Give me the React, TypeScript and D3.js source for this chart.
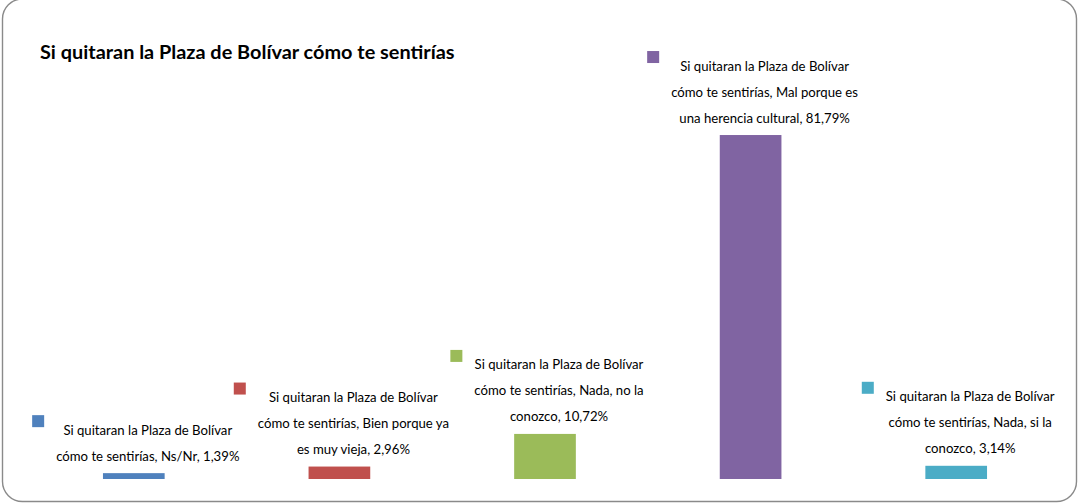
import React, { useEffect, useRef } from "react";
import * as d3 from "d3";

const TITLE = "Si quitaran la Plaza de Bolívar cómo te sentirías";
const SERIES_PREFIX = "Si quitaran la Plaza de Bolívar cómo te sentirías";
const categories = [
  "Ns/Nr",
  "Bien porque ya es muy vieja",
  "Nada, no la conozco",
  "Mal porque es una herencia cultural",
  "Nada, si la conozco",
];
const values = [1.39, 2.96, 10.72, 81.79, 3.14];
const valueLabels = ["1,39%", "2,96%", "10,72%", "81,79%", "3,14%"];
const colors = ["#4F81BD", "#C0504D", "#9BBB59", "#8064A2", "#4BACC6"];

const W = 1078;
const H = 503;
const FONT = "Lato, 'Open Sans', sans-serif";

export default function App() {
  const ref = useRef<SVGSVGElement | null>(null);

  useEffect(() => {
    document.body.style.margin = "0";
    const svg = d3.select(ref.current);
    svg.selectAll("*").remove();

    svg
      .append("rect")
      .attr("x", 2.5)
      .attr("y", -1)
      .attr("width", 1074)
      .attr("height", 502.5)
      .attr("rx", 20)
      .attr("ry", 20)
      .attr("fill", "#fff")
      .attr("stroke", "#8a8a8a")
      .attr("stroke-width", 1.4);

    // Title, sized to match the reference width
    const title = svg
      .append("text")
      .attr("x", 40)
      .attr("y", 58.5)
      .attr("font-family", FONT)
      .attr("font-weight", "bold")
      .attr("font-size", 18)
      .attr("fill", "#000")
      .text(TITLE);
    const tw = (title.node() as SVGTextElement).getComputedTextLength();
    title.attr("font-size", (18 * 415) / tw);

    const x = d3
      .scaleBand<string>()
      .domain(categories)
      .range([31, 1059])
      .paddingInner(0.7)
      .paddingOuter(0.35);
    const y = d3.scaleLinear().domain([0, 90]).range([479, 100.5]);

    svg
      .selectAll("rect.bar")
      .data(categories)
      .enter()
      .append("rect")
      .attr("class", "bar")
      .attr("x", (d) => x(d)!)
      .attr("width", x.bandwidth())
      .attr("y", (_d, i) => y(values[i]))
      .attr("height", (_d, i) => y(0) - y(values[i]))
      .attr("fill", (_d, i) => colors[i]);

    // Measure label font size
    const probe = svg
      .append("text")
      .attr("font-family", FONT)
      .attr("font-size", 13)
      .text("Si quitaran la Plaza de Bolívar");
    const pw = (probe.node() as SVGTextElement).getComputedTextLength();
    const fs = (13 * 169) / pw;
    probe.attr("font-size", fs);
    const measure = (s: string) => {
      probe.text(s);
      return (probe.node() as SVGTextElement).getComputedTextLength();
    };
    const maxLine = 169 * 1.2;

    const lineGap = 26;
    categories.forEach((cat, i) => {
      const full = `${SERIES_PREFIX}, ${cat}, ${valueLabels[i]}`;
      const words = full.split(" ");
      const lines: string[] = [];
      let cur = "";
      words.forEach((w) => {
        const t = cur ? cur + " " + w : w;
        if (cur && measure(t) > maxLine) {
          lines.push(cur);
          cur = w;
        } else cur = t;
      });
      if (cur) lines.push(cur);
      const widths = lines.map(measure);
      const maxW = Math.max(...widths);
      const cx = x(cat)! + x.bandwidth() / 2;
      const tcx = cx + 14;
      const lastCenter = y(values[i]) - 17;
      const firstCenter = lastCenter - (lines.length - 1) * lineGap;
      lines.forEach((ln, j) => {
        svg
          .append("text")
          .attr("x", tcx)
          .attr("y", firstCenter + j * lineGap + 4.5)
          .attr("text-anchor", "middle")
          .attr("font-family", FONT)
          .attr("font-size", fs)
          .attr("fill", "#000")
          .text(ln);
      });
      svg
        .append("rect")
        .attr("x", tcx - maxW / 2 - 24)
        .attr("y", firstCenter - 15)
        .attr("width", 12)
        .attr("height", 12)
        .attr("fill", colors[i]);
    });
    probe.remove();
  }, []);

  return (
    <svg
      ref={ref}
      width={W}
      height={H}
      style={{ display: "block", position: "absolute", left: 0, top: 0 }}
    />
  );
}
